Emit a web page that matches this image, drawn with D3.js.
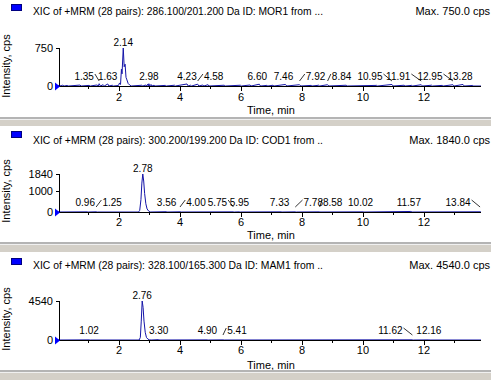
<!DOCTYPE html>
<html>
<head>
<meta charset="utf-8">
<script src="https://cdn.jsdelivr.net/npm/d3@7"></script>
<style>
  html, body { margin: 0; padding: 0; background: #fff; }
  svg { display: block; font-family: "Liberation Sans", Arial, sans-serif; }
</style>
</head>
<body>
<svg id="chart" width="491" height="380"></svg>
<script>
// ---- data ----
const panelTitles = [
  "XIC of +MRM (28 pairs): 286.100/201.200 Da ID: MOR1 from ...",
  "XIC of +MRM (28 pairs): 300.200/199.200 Da ID: COD1 from ..",
  "XIC of +MRM (28 pairs): 328.100/165.300 Da ID: MAM1 from .."
];
const maxLabels = ["Max. 750.0 cps", "Max. 1840.0 cps", "Max. 4540.0 cps"];
const yMax = [750, 1840, 4540];
const morYTicks = [0, 750];
const codYTicks = [0, 1000, 1840];
const mamYTicks = [0, 4540];
const xTicks = [2, 4, 6, 8, 10, 12];
const xMinorTicks = [1, 3, 5, 7, 9, 11, 13];

// [time (min), intensity (cps)]
const morTrace = [
  [0, 0], [0.05, 25], [0.08, 0], [0.15, 15], [0.2, 0], [0.3, 10], [0.35, 0],
  [0.72, 18], [0.76, 0], [1.02, 12], [1.06, 0], [1.28, 20], [1.32, 0],
  [1.35, 45], [1.39, 0], [1.48, 25], [1.52, 0], [1.63, 40], [1.67, 0],
  [1.78, 15], [1.82, 0], [1.98, 10], [2.02, 60], [2.05, 30], [2.08, 330],
  [2.10, 240], [2.14, 750], [2.17, 380], [2.20, 430], [2.23, 170],
  [2.26, 120], [2.30, 50], [2.35, 20], [2.40, 0], [2.75, 15], [2.78, 0],
  [2.88, 20], [2.90, 0], [2.94, 35], [2.96, 0], [2.98, 45], [3.01, 0],
  [3.05, 30], [3.08, 0], [3.15, 15], [3.18, 0], [3.52, 12], [3.55, 0],
  [3.82, 15], [3.85, 0], [4.23, 40], [4.27, 0], [4.35, 15], [4.38, 0],
  [4.58, 35], [4.62, 0], [4.75, 20], [4.78, 0], [4.92, 25], [4.95, 0],
  [5.45, 15], [5.48, 0], [5.98, 15], [6.01, 0], [6.30, 20], [6.33, 0],
  [6.60, 35], [6.64, 0], [6.85, 12], [6.88, 0], [7.05, 15], [7.08, 0],
  [7.46, 30], [7.50, 0], [7.92, 25], [7.96, 0], [8.30, 12], [8.33, 0],
  [8.55, 15], [8.58, 0], [8.84, 25], [8.88, 0], [9.45, 15], [9.48, 0],
  [10.45, 12], [10.48, 0], [10.95, 30], [10.99, 0], [11.35, 15], [11.38, 0],
  [11.60, 12], [11.63, 0], [11.91, 25], [11.95, 0], [12.25, 15], [12.28, 0],
  [12.60, 12], [12.63, 0], [12.95, 25], [12.99, 0], [13.28, 30], [13.32, 0],
  [13.60, 10], [13.63, 0], [13.87, 0]
];
const codTrace = [
  [0, 0], [0.96, 8], [1.0, 0], [1.25, 10], [1.29, 0], [2.64, 0], [2.68, 80],
  [2.72, 600], [2.75, 1400], [2.78, 1840], [2.81, 1500], [2.84, 900],
  [2.88, 400], [2.92, 150], [2.97, 50], [3.02, 0], [3.56, 15], [3.60, 0],
  [4.00, 10], [4.04, 0], [5.75, 8], [5.79, 0], [5.95, 8], [5.99, 0],
  [7.33, 8], [7.37, 0], [7.78, 8], [7.82, 0], [8.58, 8], [8.62, 0],
  [10.02, 8], [10.06, 0], [11.57, 25], [11.61, 0], [13.84, 10], [13.87, 0]
];
const mamTrace = [
  [0, 0], [1.02, 15], [1.06, 0], [2.66, 0], [2.70, 300], [2.73, 2200],
  [2.76, 4540], [2.79, 3800], [2.82, 2200], [2.86, 900], [2.90, 300],
  [2.95, 100], [3.00, 20], [3.05, 0], [3.30, 40], [3.34, 0], [4.90, 15],
  [4.94, 0], [5.41, 15], [5.45, 0], [11.62, 20], [11.66, 0], [12.16, 15],
  [12.20, 0], [13.87, 0]
];

const morPeaks = [1.35, 1.63, 2.14, 2.98, 4.23, 4.58, 6.60, 7.46, 7.92, 8.84, 10.95, 11.91, 12.95, 13.28];
const codPeaks = [0.96, 1.25, 2.78, 3.56, 4.00, 5.75, 5.95, 7.33, 7.78, 8.58, 10.02, 11.57, 13.84];
const mamPeaks = [1.02, 2.76, 3.30, 4.90, 5.41, 11.62, 12.16];

// ---- layout (pixels) ----
const labelShift = [
  { "1.35": -15, "4.58": 16, "7.92": 16, "8.84": 14, "10.95": -22, "11.91": -23, "12.95": -23, "13.28": -3, "6.60": -2, "7.46": -2 },
  { "1.25": 16, "4.00": 16, "5.75": -16, "7.33": -2, "7.78": 18, "8.58": 13, "10.02": -3, "11.57": -2, "13.84": -22, "0.96": -2 },
  { "5.41": 14, "11.62": -22 }
];
const layout = [
  { title: 11, swatch: 4, yTop: 48, base: 86, tickLab: 97, timeLab: 110, yLab: 66, sep: [117, 126] },
  { title: 140, swatch: 131, yTop: 174, base: 212, tickLab: 222, timeLab: 235, yLab: 191, sep: [242, 252] },
  { title: 265, swatch: 258, yTop: 301, base: 340, tickLab: 350, timeLab: 365, yLab: 319, sep: [370, 380] }
];

const traces = [morTrace, codTrace, mamTrace];
const peaks = [morPeaks, codPeaks, mamPeaks];
const yTicks = [morYTicks, codYTicks, mamYTicks];

const svg = d3.select('#chart');
const traceColor = '#1414a8';
const x = d3.scaleLinear().domain([0, 13.87]).range([58, 481]);

traces.forEach((trace, i) => {
  const L = layout[i];
  const g = svg.append('g');
  const y = d3.scaleLinear().domain([0, yMax[i]]).range([L.base, L.yTop]);

  // legend swatch + title
  g.append('rect')
    .attr('x', 11.5).attr('y', L.swatch + 0.5)
    .attr('width', 10).attr('height', 6)
    .attr('fill', '#0000ff').attr('stroke', '#000080');
  g.append('text')
    .attr('x', 33).attr('y', L.title + 4)
    .attr('font-size', 11)
    .attr('textLength', 290).attr('lengthAdjust', 'spacingAndGlyphs')
    .text(panelTitles[i]);
  g.append('text')
    .attr('x', 490).attr('y', L.title + 4)
    .attr('font-size', 11).attr('text-anchor', 'end')
    .text(maxLabels[i]);

  // y label
  g.append('text')
    .attr('transform', `translate(10,${L.yLab}) rotate(-90)`)
    .attr('font-size', 11).attr('text-anchor', 'middle')
    .text('Intensity, cps');

  // trace
  const line = d3.line().x(d => x(d[0])).y(d => y(d[1]));
  g.append('path')
    .datum(trace)
    .attr('d', line)
    .attr('fill', 'none')
    .attr('stroke', traceColor)
    .attr('stroke-width', 1);

  // axes
  g.append('line')
    .attr('x1', 59.5).attr('x2', 59.5)
    .attr('y1', L.yTop).attr('y2', L.base + 0.5)
    .attr('stroke', '#000');
  g.append('line')
    .attr('x1', 58).attr('x2', 481)
    .attr('y1', L.base + 0.5).attr('y2', L.base + 0.5)
    .attr('stroke', '#000');

  g.selectAll('.ytick').data(yTicks[i]).join('line')
    .attr('x1', 56).attr('x2', 59)
    .attr('y1', d => Math.round(y(d)) + 0.5).attr('y2', d => Math.round(y(d)) + 0.5)
    .attr('stroke', '#000');
  g.selectAll('.ylab').data(yTicks[i]).join('text')
    .attr('x', 53).attr('y', d => y(d) + 4)
    .attr('font-size', 11).attr('text-anchor', 'end')
    .text(d => d);

  g.selectAll('.xtick').data(xTicks).join('line')
    .attr('x1', d => Math.round(x(d)) + 0.5).attr('x2', d => Math.round(x(d)) + 0.5)
    .attr('y1', L.base).attr('y2', L.base + 5)
    .attr('stroke', '#000');
  g.selectAll('.xminor').data(xMinorTicks).join('line')
    .attr('x1', d => Math.round(x(d)) + 0.5).attr('x2', d => Math.round(x(d)) + 0.5)
    .attr('y1', L.base).attr('y2', L.base + 3)
    .attr('stroke', '#000');
  g.selectAll('.xlab').data(xTicks).join('text')
    .attr('x', d => x(d)).attr('y', L.tickLab + 4)
    .attr('font-size', 11).attr('text-anchor', 'middle')
    .text(d => d);
  g.append('text')
    .attr('x', 247).attr('y', L.timeLab + 4)
    .attr('font-size', 11)
    .text('Time, min');

  // start marker
  g.append('path')
    .attr('d', `M55,${L.base - 3.5}L60,${L.base + 0.5}L55,${L.base + 4.5}Z`)
    .attr('fill', '#0000ff');

  // peak labels
  peaks[i].forEach(p => {
    const txt = p.toFixed(2);
    const near = trace.reduce((a, b) => Math.abs(b[0] - p) < Math.abs(a[0] - p) ? b : a);
    const px = x(p);
    const ly = Math.min(y(near[1]) - 6, L.base - 10);
    const shift = labelShift[i][txt] || 0;
    const t = g.append('text')
      .attr('x', px + shift).attr('y', ly + 4)
      .attr('font-size', 10).attr('text-anchor', 'middle')
      .text(txt);
    if (Math.abs(shift) > 8) {
      const w = t.node().getComputedTextLength();
      const edge = shift < 0 ? px + shift + w / 2 + 1 : px + shift - w / 2 - 1;
      g.append('line')
        .attr('x1', edge).attr('y1', ly - 2)
        .attr('x2', px).attr('y2', ly + 5)
        .attr('stroke', '#000').attr('stroke-width', 0.8);
    }
  });

  // window separator
  const [s0, s1] = L.sep;
  g.append('rect').attr('x', 0).attr('y', s0).attr('width', 491).attr('height', s1 - s0).attr('fill', '#d4d0c8');
  g.append('rect').attr('x', 0).attr('y', s0).attr('width', 491).attr('height', 2).attr('fill', '#b4b4b4');
  g.append('rect').attr('x', 0).attr('y', s0 + 2).attr('width', 491).attr('height', 1).attr('fill', '#f0f0f0');
});
</script>
</body>
</html>
